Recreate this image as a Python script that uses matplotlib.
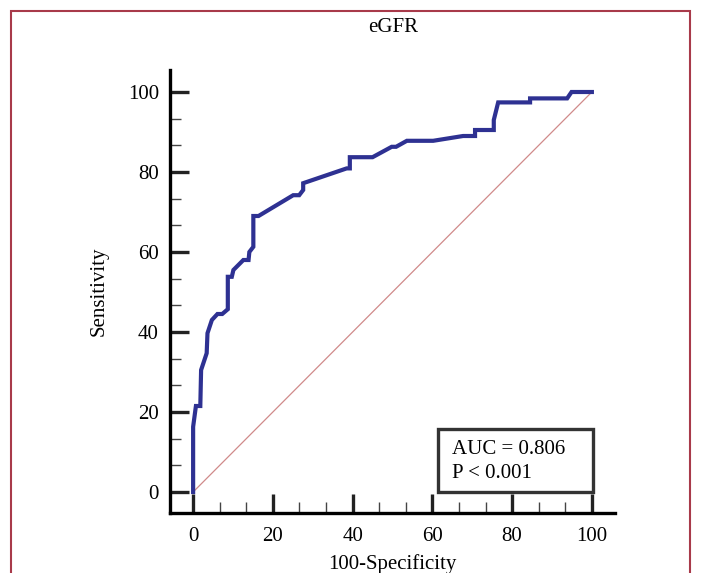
import matplotlib
matplotlib.use("Agg")
import matplotlib.pyplot as plt
from matplotlib.patches import Rectangle
from matplotlib.ticker import MultipleLocator

# ROC curve for eGFR
fpr = [0, 0, 0.7, 1.8, 2.0, 3.4, 3.6, 4.7, 6.1, 7.3, 8.7, 8.7, 9.7, 10.1,
       12.6, 13.9, 14.1, 15.1, 15.1, 16.4, 25.1, 26.6, 27.6, 27.6, 38.5,
       39.3, 39.3, 45.0, 49.8, 50.9, 53.6, 60.2, 67.7, 70.7, 70.7, 75.4,
       75.4, 76.5, 84.5, 84.5, 93.8, 94.9, 100]
tpr = [0, 16.3, 21.5, 21.5, 30.5, 34.7, 39.7, 43.0, 44.5, 44.5, 45.7, 53.8,
       53.8, 55.5, 58.0, 58.0, 60.0, 61.3, 69.0, 69.0, 74.2, 74.2, 75.5,
       77.2, 80.9, 80.9, 83.7, 83.7, 86.3, 86.3, 87.8, 87.8, 89.0, 89.0,
       90.5, 90.5, 93.0, 97.4, 97.4, 98.4, 98.4, 100, 100]
ref_line = [0, 100]
ticks = [0, 20, 40, 60, 80, 100]

title = "eGFR"
auc_text = "AUC = 0.806\nP < 0.001"

plt.rcParams["font.family"] = ["Liberation Serif", "DejaVu Serif"]

fig = plt.figure(figsize=(7.02, 5.73), dpi=100)
ax = fig.add_axes([170/702, 60/573, 445/702, 443/573])

ax.plot(ref_line, ref_line, color="#d08a8a", lw=0.9)
ax.plot(fpr, tpr, color="#2e3192", lw=3.0, solid_joinstyle="miter")

ax.set_xlim(-5.8, 105.8)
ax.set_ylim(-5.25, 105.5)
ax.set_xticks(ticks)
ax.set_yticks(ticks)
# two minor ticks between each pair of major ticks
minor = [t + k * 20 / 3 for t in ticks[:-1] for k in (1, 2)]
ax.set_xticks(minor, minor=True)
ax.set_yticks(minor, minor=True)

for s in ["top", "right"]:
    ax.spines[s].set_visible(False)
for s in ["left", "bottom"]:
    ax.spines[s].set_linewidth(2.4)

ax.tick_params(which="major", direction="in", length=14, width=2.4,
               labelsize=15, color="#222222")
ax.tick_params(which="minor", direction="in", length=8, width=1.0,
               color="#444444")
ax.tick_params(axis="y", which="major", pad=8)
ax.tick_params(axis="x", which="major", pad=10)

ax.set_xlabel("100-Specificity", fontsize=15, labelpad=6)
ax.set_ylabel("Sensitivity", fontsize=15, labelpad=14)

fig.text(393/702, 1 - 27/573, title, ha="center", va="center", fontsize=15)

# stats box
ax.add_patch(Rectangle((61.4, 0), 38.8, 15.8, fill=False, lw=2.4,
                       edgecolor="#333333", clip_on=False, zorder=5))
ax.text(64.8, 7.6, auc_text, ha="left", va="center", fontsize=15,
        linespacing=1.3, zorder=6)

# red frame around the figure
fig.patches.append(Rectangle((11/702, -0.05), 679/702, 1 - 11/573 + 0.05,
                             transform=fig.transFigure, fill=False,
                             edgecolor="#a83a4a", lw=1.5))

fig.savefig("out.png", dpi=100)
